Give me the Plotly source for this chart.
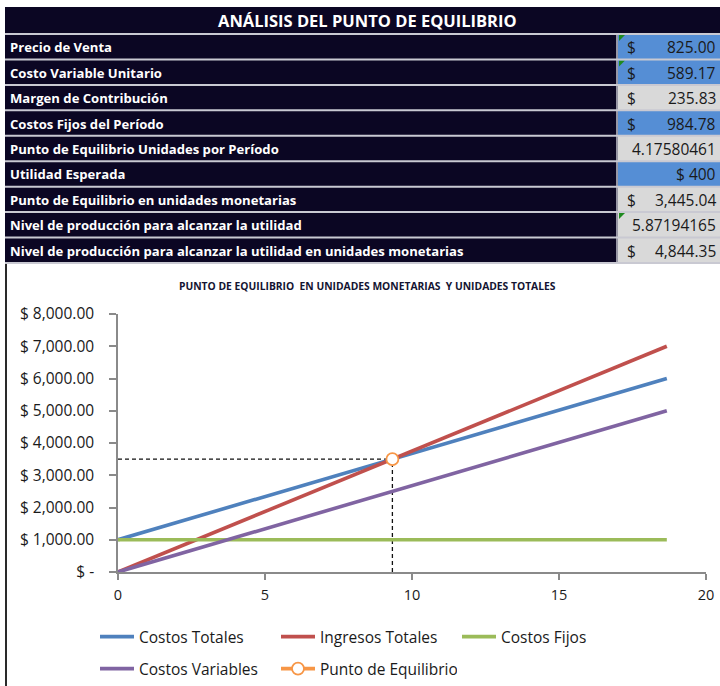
import plotly.graph_objects as go

W, H = 720, 686


def px(x):
    return x / W


def py(y):
    return 1 - y / H


# ---------------- data ----------------
table_title = "ANÁLISIS DEL PUNTO DE EQUILIBRIO"
row_labels = [
    "Precio de Venta",
    "Costo Variable Unitario",
    "Margen de Contribución",
    "Costos Fijos del Período",
    "Punto de Equilibrio Unidades por Período",
    "Utilidad Esperada",
    "Punto de Equilibrio en unidades monetarias",
    "Nivel de producción para alcanzar la utilidad",
    "Nivel de producción para alcanzar la utilidad en unidades monetarias",
]
row_dollar = [True, True, True, True, False, False, True, False, True]
row_values = ["825.00", "589.17", "235.83", "984.78", "4.17580461", "$ 400",
              "3,445.04", "5.87194165", "4,844.35"]
row_kind = ["input", "input", "calc", "input", "calc", "input", "calc", "calc", "calc"]
row_flag = [True, True, False, False, False, False, False, True, False]

chart_title = "PUNTO DE EQUILIBRIO  EN UNIDADES MONETARIAS  Y UNIDADES TOTALES"
units = [0, 9.333, 18.667]
costos_totales = [1000, 3500, 6000]
ingresos_totales = [0, 3500, 7000]
costos_fijos = [1000, 1000, 1000]
costos_variables = [0, 2500, 5000]
equilibrio_x = [9.333]
equilibrio_y = [3500]

y_tickvals = [0, 1000, 2000, 3000, 4000, 5000, 6000, 7000, 8000]
y_ticktext = ["$ -", "$ 1,000.00", "$ 2,000.00", "$ 3,000.00", "$ 4,000.00",
              "$ 5,000.00", "$ 6,000.00", "$ 7,000.00", "$ 8,000.00"]
x_tickvals = [0, 5, 10, 15, 20]

# ---------------- styles ----------------
FONT = "'Open Sans', Lato, sans-serif"
NAVY = "#0b0623"
SEP = "#c9c9d2"
CELL_COL = {"input": "#558ed5", "calc": "#d9d9d9"}
C_BLUE, C_RED, C_GREEN, C_PURPLE, C_ORANGE = "#4f81bd", "#c0504d", "#9bbb59", "#8064a2", "#f79646"
TXT = "#1a1a1a"

shapes = []
annotations = []

# ---------------- table ----------------
T_LEFT, T_RIGHT, T_TOP = 5, 720, 7
ROW0, ROW_H = 34, 25.44
VAL_X = 618
T_BOT = ROW0 + ROW_H * len(row_labels)

shapes.append(dict(type="rect", xref="paper", yref="paper",
                   x0=px(T_LEFT), x1=px(T_RIGHT), y0=py(T_BOT), y1=py(T_TOP),
                   fillcolor=NAVY, line=dict(width=0), layer="below"))
shapes.append(dict(type="line", xref="paper", yref="paper",
                   x0=px(T_LEFT + 1), x1=px(T_LEFT + 1), y0=py(T_BOT), y1=py(H),
                   line=dict(color="#2a2a2a", width=2)))
annotations.append(dict(xref="paper", yref="paper", x=px(367), y=py((T_TOP + ROW0) / 2),
                        text="<b>%s</b>" % table_title, showarrow=False,
                        font=dict(family=FONT, size=16.5, color="white"),
                        xanchor="center", yanchor="middle"))

for i, lab in enumerate(row_labels):
    top = ROW0 + i * ROW_H
    bot = top + ROW_H
    mid = (top + bot) / 2
    shapes.append(dict(type="rect", xref="paper", yref="paper",
                       x0=px(VAL_X), x1=px(T_RIGHT), y0=py(bot), y1=py(top),
                       fillcolor=CELL_COL[row_kind[i]], line=dict(width=0)))
    if row_flag[i]:
        shapes.append(dict(type="path", xref="paper", yref="paper",
                           path="M %f %f L %f %f L %f %f Z" % (px(VAL_X + 1), py(top + 1),
                                                              px(VAL_X + 7), py(top + 1),
                                                              px(VAL_X + 1), py(top + 7)),
                           fillcolor="#1f8a1f", line=dict(width=0)))
    annotations.append(dict(xref="paper", yref="paper", x=px(8), y=py(mid + 0.5),
                            text="<b>%s</b>" % lab, showarrow=False,
                            font=dict(family=FONT, size=13.1, color="white"),
                            xanchor="left", yanchor="middle"))
    if row_dollar[i]:
        annotations.append(dict(xref="paper", yref="paper", x=px(625), y=py(mid + 0.5),
                                text="$", showarrow=False,
                                font=dict(family=FONT, size=15.5, color=TXT),
                                xanchor="left", yanchor="middle"))
    annotations.append(dict(xref="paper", yref="paper", x=px(718), y=py(mid + 0.5),
                            text=row_values[i], showarrow=False,
                            font=dict(family=FONT, size=15.5, color=TXT),
                            xanchor="right", yanchor="middle"))

for i in range(len(row_labels) + 1):
    yb = ROW0 + i * ROW_H
    shapes.append(dict(type="line", xref="paper", yref="paper",
                       x0=px(T_LEFT), x1=px(T_RIGHT), y0=py(yb), y1=py(yb),
                       line=dict(color=SEP, width=2)))
shapes.append(dict(type="line", xref="paper", yref="paper",
                   x0=px(VAL_X - 1), x1=px(VAL_X - 1), y0=py(ROW0), y1=py(T_BOT),
                   line=dict(color=SEP, width=1.5)))

# chart title
annotations.append(dict(xref="paper", yref="paper", x=px(367), y=py(286),
                        text="<b>%s</b>" % chart_title, showarrow=False,
                        font=dict(family=FONT, size=10.3, color="#141432"),
                        xanchor="center", yanchor="middle"))

# ---------------- chart ----------------
fig = go.Figure()
fig.add_trace(go.Scatter(x=[0, equilibrio_x[0]], y=[equilibrio_y[0], equilibrio_y[0]], mode="lines",
                         line=dict(color="#111111", width=1.3, dash="4px,3px"),
                         showlegend=False, hoverinfo="skip"))
fig.add_trace(go.Scatter(x=[equilibrio_x[0], equilibrio_x[0]], y=[0, equilibrio_y[0]], mode="lines",
                         line=dict(color="#111111", width=1.3, dash="4px,3px"),
                         showlegend=False, hoverinfo="skip"))

LW = 3.6
fig.add_trace(go.Scatter(x=units, y=costos_totales, mode="lines", name="Costos Totales",
                         line=dict(color=C_BLUE, width=LW), legend="legend"))
fig.add_trace(go.Scatter(x=units, y=ingresos_totales, mode="lines", name="Ingresos Totales",
                         line=dict(color=C_RED, width=LW), legend="legend"))
fig.add_trace(go.Scatter(x=units, y=costos_fijos, mode="lines", name="Costos Fijos",
                         line=dict(color=C_GREEN, width=LW), legend="legend"))
fig.add_trace(go.Scatter(x=units, y=costos_variables, mode="lines", name="Costos Variables",
                         line=dict(color=C_PURPLE, width=LW), legend="legend2"))
fig.add_trace(go.Scatter(x=equilibrio_x, y=equilibrio_y, mode="lines+markers", name="Punto de Equilibrio",
                         line=dict(color=C_ORANGE, width=LW),
                         marker=dict(symbol="circle", size=12, color="white",
                                     line=dict(color=C_ORANGE, width=1.8)),
                         legend="legend2"))

axis_col = "#8a8a8a"
legend_common = dict(orientation="h", xanchor="left", yanchor="top",
                     entrywidth=132, entrywidthmode="pixels", itemwidth=34,
                     font=dict(family=FONT, size=15.5, color=TXT), bgcolor="rgba(0,0,0,0)",
                     borderwidth=0)
fig.update_layout(
    width=W, height=H,
    margin=dict(l=0, r=0, t=0, b=0, autoexpand=False),
    paper_bgcolor="white", plot_bgcolor="white",
    font=dict(family=FONT, size=14, color=TXT),
    xaxis=dict(domain=[px(118), px(706)], range=[0, 20], tickvals=x_tickvals, automargin=False,
               showgrid=False, zeroline=False, showline=True, linecolor=axis_col, linewidth=1.5,
               ticks="outside", ticklen=6, tickcolor=axis_col, tickwidth=1.5,
               tickfont=dict(family=FONT, size=14.5, color=TXT), ticklabelstandoff=3),
    yaxis=dict(domain=[py(572), py(314)], range=[0, 8000], tickvals=y_tickvals, ticktext=y_ticktext,
               automargin=False,
               showgrid=False, zeroline=False, showline=True, linecolor=axis_col, linewidth=1.5,
               ticks="outside", ticklen=7, tickcolor=axis_col, tickwidth=1.5,
               tickfont=dict(family=FONT, size=15.5, color=TXT), ticklabelstandoff=12),
    legend=dict(x=px(95), y=py(620), **legend_common),
    legend2=dict(x=px(95), y=py(652), **legend_common),
    shapes=shapes,
    annotations=annotations,
)

fig.write_html("out.html")
